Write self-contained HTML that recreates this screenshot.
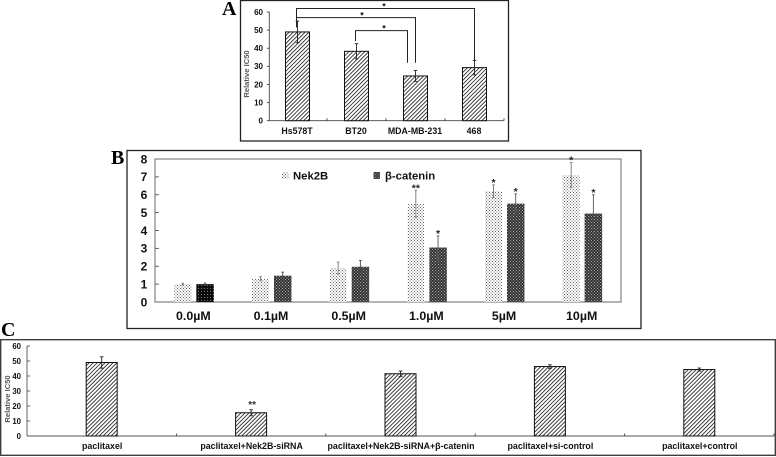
<!DOCTYPE html>
<html>
<head>
<meta charset="utf-8">
<style>
html,body{margin:0;padding:0;background:#fff;width:776px;height:457px;overflow:hidden}
svg{display:block;filter:blur(.3px)}
text{font-family:"Liberation Sans",sans-serif;font-weight:bold;fill:#111}
.panel{font-family:"Liberation Serif",serif;font-size:20px;fill:#000}
</style>
</head>
<body>
<svg id="fig" width="776" height="457" viewBox="0 0 776 457" xmlns="http://www.w3.org/2000/svg">
<defs>
<pattern id="hatch" width="2.8" height="2.8" patternUnits="userSpaceOnUse" patternTransform="rotate(45)">
<rect width="2.8" height="2.8" fill="#fff"/><rect width="0.85" height="2.8" fill="#222"/>
</pattern>
<pattern id="light" width="3" height="3" patternUnits="userSpaceOnUse">
<rect width="3" height="3" fill="#fff"/><rect x="0" y="0" width="1" height="1" fill="#666"/><rect x="1.5" y="1.5" width="1" height="1" fill="#666"/>
</pattern>
<pattern id="dark" width="3" height="3" patternUnits="userSpaceOnUse">
<rect width="3" height="3" fill="#333"/><rect x="0" y="0" width="1" height="1" fill="#aaa"/><rect x="1.5" y="1.5" width="1" height="1" fill="#aaa"/>
</pattern>
<pattern id="black" width="3" height="3" patternUnits="userSpaceOnUse">
<rect width="3" height="3" fill="#0c0c0c"/><rect x="0" y="0" width="1" height="1" fill="#777"/>
</pattern>
</defs>

<rect x="240.5" y="0.5" width="268" height="140.5" fill="#fff" stroke="#222" stroke-width="1.3"/>
<text class="panel" x="222" y="15">A</text>

<rect x="127" y="150.5" width="514" height="178" fill="#fff" stroke="#222" stroke-width="1.3"/>
<text class="panel" x="111" y="164">B</text>

<rect x="0.7" y="339.7" width="774.6" height="115.6" fill="#fff" stroke="#333" stroke-width="1.3"/>
<text class="panel" x="1" y="336">C</text>

<g id="chartA"></g>
<g id="chartB"></g>
<g id="chartC"></g>
</svg>

<script>
/* Panel A data */
const catsA = ["Hs578T", "BT20", "MDA-MB-231", "468"];
const valsA = [49, 38.3, 24.7, 29.3];
const errsA = [6, 4.2, 3, 4];
const ticksA = [0, 10, 20, 30, 40, 50, 60];
const bracketFromA = [0, 0, 1];
const bracketToA = [3, 2, 2];
const bracketLevelA = [61.9, 56.9, 49.7];
const bracketEndA = [33, 32, 32];
const bracketStartA = [57, 51.5, 44];

/* Panel B data */
const catsB = ["0.0µM", "0.1µM", "0.5µM", "1.0µM", "5µM", "10µM"];
const nekVals = [1, 1.3, 1.9, 5.5, 6.2, 7.1];
const nekErrs = [0.05, 0.12, 0.33, 0.75, 0.35, 0.7];
const nekStars = ["", "", "", "**", "*", "*"];
const catVals = [1, 1.47, 1.97, 3.05, 5.5, 4.95];
const catErrs = [0.06, 0.2, 0.35, 0.65, 0.55, 1.05];
const catStars = ["", "", "", "*", "*", "*"];
const ticksB = [0, 1, 2, 3, 4, 5, 6, 7, 8];

/* Panel C data */
const catsC = ["paclitaxel", "paclitaxel+Nek2B-siRNA", "paclitaxel+Nek2B-siRNA+β-catenin", "paclitaxel+si-control", "paclitaxel+control"];
const valsC = [49, 15.5, 41.5, 46.3, 44.3];
const errsC = [3.8, 2, 1.8, 1.2, 1];
const starsC = ["", "**", "", "", ""];
const ticksC = [0, 10, 20, 30, 40, 50, 60];

const NS = "http://www.w3.org/2000/svg";
function mk(parent, tag, attrs, txt) {
  const el = document.createElementNS(NS, tag);
  for (const k in attrs) el.setAttribute(k, attrs[k]);
  if (txt !== undefined) el.textContent = txt;
  parent.appendChild(el);
  return el;
}
function line(parent, x1, y1, x2, y2, color, w, name) {
  const el = mk(parent, "line", {x1: x1, y1: y1, x2: x2, y2: y2, stroke: color, "stroke-width": w});
  
  
  return el;
}
function label(parent, x, y, s, size, anchor, name, color) {
  const el = mk(parent, "text", {x: x, y: y, "font-size": size, "text-anchor": anchor}, s);
  if (color) el.style.fill = color;
  
  
  return el;
}
function bar(parent, x, w, val, y, base, fill, stroke, name) {
  const el = mk(parent, "rect", {x: x, y: y(val), width: w, height: base - y(val), fill: fill, stroke: stroke, "stroke-width": stroke === "none" ? 0 : 1});
  
  
  return el;
}
function errorBar(parent, cx, val, err, y, color, cap, name) {
  line(parent, cx, y(val + err), cx, y(val - err), color, 0.9, name);
  line(parent, cx - cap, y(val + err), cx + cap, y(val + err), color, 0.9, name + '-cap-top');
  line(parent, cx - cap, y(val - err), cx + cap, y(val - err), color, 0.9, name + '-cap-bottom');
}

/* ---------- Panel A ---------- */
(function () {
  const g = document.getElementById("chartA");
  const x0 = 268, x1 = 504, y0 = 120.7, yTop = 12, vMax = 60;
  const y = v => y0 - (v / vMax) * (y0 - yTop);
  const step = (x1 - x0) / catsA.length;
  const xc = i => x0 + step * (i + 0.5);
  line(g, x0 + 1.3, yTop, x0 + 1.3, y0, "#444", 0.9, 'a-y-axis');
  line(g, x0 + 1.3, y0, x1, y0, "#444", 0.9, 'a-x-axis');
  ticksA.forEach(t => {
    line(g, x0 - 1.2, y(t), x0 + 1.3, y(t), "#444", 0.9, 'a-y-tick');
    label(g, 263, y(t) + 2.8, String(t), 8, "end", 'a-y-tick-label');
  });
  catsA.forEach((c, i) => {
    line(g, x0 + step * (i + 1), y0 - 2.5, x0 + step * (i + 1), y0, "#444", 0.9, 'a-x-tick');
    bar(g, xc(i) - 12, 24, valsA[i], y, y0, "url(#hatch)", "#111", 'a-bar');
    errorBar(g, xc(i), valsA[i], errsA[i], y, "#222", 1.8, 'a-error-bar');
    label(g, xc(i) - 0.5, 134, c, 8.8, "middle", 'a-category-label');
  });
  const yl = label(g, 0, 0, "Relative IC50", 7.6, "middle", 'a-y-axis-title', "#555");
  yl.setAttribute("transform", "translate(249,74) rotate(-90)");
  const starX = [384, 362, 384];
  bracketFromA.forEach((f, i) => {
    const xa = xc(f) - 1, xb = xc(bracketToA[i]) + (i === 2 ? -8 : 0);
    const p = mk(g, "path", {d: "M" + xa + " " + y(bracketStartA[i]) + "V" + y(bracketLevelA[i]) + "H" + xb + "V" + y(bracketEndA[i]), fill: "none", stroke: "#222", "stroke-width": 1});
    
    
    label(g, starX[i], y(bracketLevelA[i]) + 1, "*", 9, "middle", 'a-significance-star');
  });
})();

/* ---------- Panel B ---------- */
(function () {
  const g = document.getElementById("chartB");
  const x0 = 155, x1 = 621, y0 = 302, yTop = 159, vMax = 8;
  const y = v => y0 - (v / vMax) * (y0 - yTop);
  const step = (x1 - x0) / catsB.length;
  const xc = i => x0 + step * (i + 0.5);
  const frame = mk(g, "rect", {x: x0, y: yTop, width: x1 - x0, height: y0 - yTop, fill: "#fff", stroke: "#777", "stroke-width": 1.1});
  
  
  ticksB.forEach(t => {
    if (t > 0 && t < 8) line(g, x0, y(t), x0 + 4, y(t), "#555", 0.9, 'b-y-tick');
    label(g, 144, y(t) + 4.3, String(t), 12, "middle", 'b-y-tick-label');
  });
  catsB.forEach((c, i) => {
    const cx = xc(i);
    const nx = cx - 19.5, kx = cx + 2.5;
    bar(g, nx, 17, nekVals[i], y, y0, "url(#light)", "none", 'b-bar-nek2b');
    bar(g, kx, 17.5, catVals[i], y, y0, i === 0 ? "url(#black)" : "url(#dark)", "none", 'b-bar-beta-catenin');
    errorBar(g, nx + 8.5, nekVals[i], nekErrs[i], y, "#777", 1.3, 'b-error-nek2b');
    errorBar(g, kx + 8.7, catVals[i], catErrs[i], y, i > 2 ? "#555" : "#444", 1.3, 'b-error-beta-catenin');
    if (nekStars[i]) label(g, nx + 8.5, y(nekVals[i] + nekErrs[i]) + 1, nekStars[i], 10.5, "middle", 'b-star-nek2b', "#222");
    if (catStars[i]) label(g, kx + 8.7, y(catVals[i] + catErrs[i]) + 1, catStars[i], 10.5, "middle", 'b-star-beta-catenin', "#222");
    label(g, cx - 0.5, 320, c, 12.4, "middle", 'b-category-label');
  });
  const l1 = mk(g, "rect", {x: 282, y: 172, width: 6.5, height: 7, fill: "url(#light)"});
  
  
  label(g, 293, 179.5, "Nek2B", 11.3, "start", 'legend-label-nek2b');
  const l2 = mk(g, "rect", {x: 373.5, y: 172, width: 6.5, height: 7, fill: "url(#dark)"});
  
  
  label(g, 385, 179.5, "β-catenin", 11.3, "start", 'legend-label-beta-catenin');
})();

/* ---------- Panel C ---------- */
(function () {
  const g = document.getElementById("chartC");
  const x0 = 27, x1 = 774, y0 = 436, yTop = 346, vMax = 60;
  const y = v => y0 - (v / vMax) * (y0 - yTop);
  const step = (x1 - x0) / catsC.length;
  const xc = i => x0 + step * (i + 0.5);
  line(g, x0, yTop, x0, y0, "#555", 0.9, 'c-y-axis');
  line(g, x0, y0, x1, y0, "#555", 0.9, 'c-x-axis');
  ticksC.forEach(t => {
    line(g, x0, y(t), x0 + 3, y(t), "#555", 0.9, 'c-y-tick');
    label(g, 21, y(t) + 2.8, String(t), 7.8, "end", 'c-y-tick-label');
  });
  catsC.forEach((c, i) => {
    line(g, x0 + step * (i + 1), y0 - 2.5, x0 + step * (i + 1), y0, "#444", 0.9, 'c-x-tick');
    bar(g, xc(i) - 15.5, 31, valsC[i], y, y0, "url(#hatch)", "#111", 'c-bar');
    errorBar(g, xc(i), valsC[i], errsC[i], y, "#222", 1.8, 'c-error-bar');
    if (starsC[i]) label(g, xc(i) + 1, y(valsC[i] + errsC[i]) - 2, starsC[i], 10, "middle", 'c-significance-star', "#333");
    label(g, xc(i) + 0.5, 449, c, 8.85, "middle", 'c-category-label');
  });
  const yl = label(g, 0, 0, "Relative IC50", 7.6, "middle", 'c-y-axis-title', "#555");
  yl.setAttribute("transform", "translate(10,399) rotate(-90)");
})();
</script>
</body>
</html>
